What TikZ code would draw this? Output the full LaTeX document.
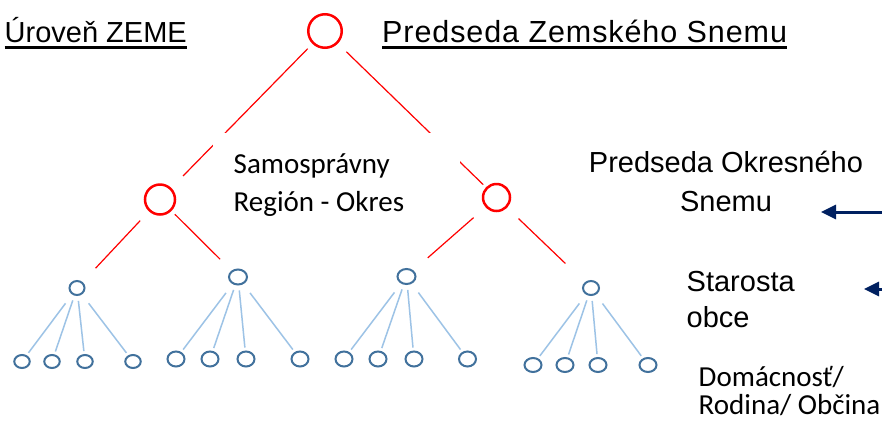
\documentclass[tikz,border=0pt]{standalone}
\usepackage{fontspec}
\setmainfont{Liberation Sans}
\newfontfamily\calfont{Carlito}
\usetikzlibrary{arrows.meta,shapes.geometric}
\definecolor{redc}{HTML}{FF0000}
\definecolor{bluec}{HTML}{41719C}
\definecolor{bluel}{HTML}{9DC3E6}
\definecolor{navyc}{HTML}{002060}
\begin{document}
\begin{tikzpicture}[x=1pt,y=-1pt,
  rednode/.style={circle,draw=redc,line width=2.5pt,inner sep=0pt,outer sep=0pt,minimum size=#1},
  bluenode/.style 2 args={ellipse,draw=bluec,line width=2pt,inner sep=0pt,outer sep=0pt,minimum width=#1,minimum height=#2},
  redline/.style={draw=redc,line width=1.2pt},
  blueline/.style={draw=bluel,line width=1.5pt,shorten >=4pt},
  arial/.style={inner sep=0pt,anchor=base west,font=\fontsize{29}{35}\selectfont},
  arialc/.style={inner sep=0pt,anchor=base,font=\fontsize{29}{35}\selectfont},
  calib/.style={inner sep=0pt,anchor=base west,font=\calfont\fontsize{29}{35}\selectfont},
  navyarrow/.style={draw=navyc,line width=3pt,-{Triangle[length=15pt,width=14pt]}},
  underl/.style={line width=3pt}
]
\useasboundingbox (0,0) rectangle (882,421);
\fill[white] (0,0) rectangle (882,421);

% red circles
\node[rednode=33.5] (top) at (325,31) {};
\node[rednode=30] (L) at (160,199.5) {};
\node[rednode=27] (R) at (496.5,197.5) {};

% blue parents
\node[bluenode={15}{14}] (g1p) at (77,288) {};
\node[bluenode={18}{15}] (g2p) at (238,277) {};
\node[bluenode={18}{15}] (g3p) at (406.5,276.5) {};
\node[bluenode={16}{14}] (g4p) at (591,288) {};

% leaves
\foreach \n/\x in {1/22,2/52,3/85,4/133}
  \node[bluenode={15.5}{13}] (g1l\n) at (\x,361.5) {};
\foreach \n/\x in {1/176,2/210,3/246,4/300}
  \node[bluenode={17}{15}] (g2l\n) at (\x,359) {};
\foreach \n/\x in {1/344,2/378,3/414,4/467.5}
  \node[bluenode={17}{15}] (g3l\n) at (\x,359) {};
\foreach \n/\x in {1/533,2/565,3/598,4/648}
  \node[bluenode={17}{14}] (g4l\n) at (\x,365) {};

% red connectors
\draw[redline,shorten <=8pt,shorten >=18pt] (top) -- (L);
\draw[redline,shorten <=13pt,shorten >=5pt] (top) -- (R);
\draw[redline,shorten <=14pt,shorten >=20pt] (L) -- (g1p);
\draw[redline,shorten <=6pt,shorten >=17pt] (L) -- (g2p);
\draw[redline,shorten <=17pt,shorten >=20pt] (R) -- (g3p);
\draw[redline,shorten <=17pt,shorten >=28pt] (R) -- (g4p);

% blue connectors
\foreach \g in {1,2,3,4}{
  \draw[blueline,shorten <=12pt] (g\g p) -- (g\g l1);
  \draw[blueline,shorten <=6pt] (g\g p) -- (g\g l2);
  \draw[blueline,shorten <=6pt] (g\g p) -- (g\g l3);
  \draw[blueline,shorten <=12pt] (g\g p) -- (g\g l4);
}

% white text box of the region label
\fill[white] (213,133) rectangle (460,226);

% texts
\node[arial] (zeme) at (4.5,42) {Úroveň ZEME};
\draw[underl] ([yshift=-5.5pt]zeme.base west) -- ([yshift=-5.5pt]zeme.base east);
\node[arial,font=\fontsize{30.5}{36}\selectfont] (zsnem) at (382,42) {\addfontfeature{LetterSpace=3}Predseda Zemského Snemu};
\draw[underl] ([yshift=-5.5pt]zsnem.base west) -- ([yshift=-5.5pt]zsnem.base east);

\node[calib] (samo1) at (233.5,173) {Samosprávny};
\node[calib] (samo2) at (233.5,211) {Región - Okres};

\node[arialc] (okr1) at (726,172) {Predseda Okresného};
\node[arialc] (okr2) at (726,211) {Snemu};

\node[arial] (star1) at (686.5,291) {Starosta};
\node[arial] (star2) at (686.5,327) {obce};

\node[calib] (dom1) at (698.5,386) {Domácnosť/};
\node[calib] (dom2) at (698.5,414) {Rodina/ Občina};

% arrows
\coordinate (a1s) at (882,212);
\coordinate (a1e) at (821,212);
\draw[navyarrow] (a1s) -- (a1e);
\coordinate (a2s) at (882,289);
\coordinate (a2e) at (864,289);
\draw[navyarrow] (a2s) -- (a2e);
\end{tikzpicture}
\end{document}
